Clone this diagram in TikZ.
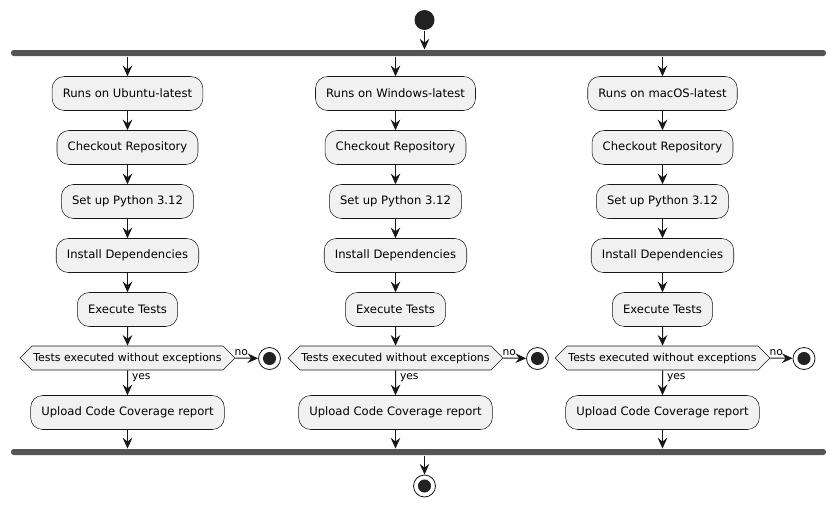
\documentclass[tikz,border=0pt]{standalone}
\usepackage{fontspec}
\setmainfont{DejaVu Sans}
\usetikzlibrary{arrows.meta,shapes.symbols}

\definecolor{boxfill}{HTML}{F1F1F1}
\definecolor{edge}{HTML}{181818}
\definecolor{barfill}{HTML}{555555}
\definecolor{dot}{HTML}{222222}

\tikzset{every picture/.style={line width=0.75pt}}
\tikzset{
  act/.style={draw=edge, line width=0.4pt, fill=boxfill, rounded corners=9pt, minimum height=25.5pt, inner xsep=8pt, font=\fontsize{8.7}{11}\selectfont},
  cond/.style={draw=edge, line width=0.4pt, fill=boxfill, signal, signal to=east and west, signal pointer angle=90, minimum height=18pt, inner xsep=1pt, inner ysep=0pt, font=\fontsize{8.2}{10}\selectfont},
  bar/.style={fill=barfill, rounded corners=2pt, minimum height=4.5pt, minimum width=611.25pt, inner sep=0pt},
  startnode/.style={circle, fill=dot, minimum size=15pt, inner sep=0pt},
  stopnode/.style={circle, draw=edge, line width=0.6pt, fill=white, minimum size=16.5pt, inner sep=0pt, path picture={\fill[dot] (path picture bounding box.center) circle (4.9pt);}},
  arr/.style={draw=edge, -{Stealth[length=8pt, width=7.2pt, inset=2.8pt]}},
  lbl/.style={inner sep=0.75pt, font=\fontsize{8}{10}\selectfont}
}

\begin{document}
\begin{tikzpicture}[x=0.75pt,y=0.75pt,yscale=-1,xscale=1]
\useasboundingbox (0,0) rectangle (836,507);

% Start and bars
\node[startnode] (st) at (424.5,20) {};
\node[bar] (fork) at (418.5,53) {};
\node[bar] (join) at (418.5,452) {};
\node[stopnode] (fin) at (424.5,486) {};

% Ubuntu column
\node[act] (u1) at (127.5,93.5) {Runs on Ubuntu-latest};
\node[act] (u2) at (127.5,147.5) {Checkout Repository};
\node[act] (u3) at (127.5,201.5) {Set up Python 3.12};
\node[act] (u4) at (127.5,255.5) {Install Dependencies};
\node[act] (u5) at (127.5,309.5) {Execute Tests};
\node[cond] (u6) at (127.5,358) {Tests executed without exceptions};
\node[stopnode] (ue) at (269.5,358.5) {};
\node[act] (u7) at (127.5,412.5) {Upload Code Coverage report};

% Windows column
\node[act] (w1) at (395.5,93.5) {Runs on Windows-latest};
\node[act] (w2) at (395.5,147.5) {Checkout Repository};
\node[act] (w3) at (395.5,201.5) {Set up Python 3.12};
\node[act] (w4) at (395.5,255.5) {Install Dependencies};
\node[act] (w5) at (395.5,309.5) {Execute Tests};
\node[cond] (w6) at (395.5,358) {Tests executed without exceptions};
\node[stopnode] (we) at (537.5,358.5) {};
\node[act] (w7) at (395.5,412.5) {Upload Code Coverage report};

% macOS column
\node[act] (m1) at (662.5,93.5) {Runs on macOS-latest};
\node[act] (m2) at (662.5,147.5) {Checkout Repository};
\node[act] (m3) at (662.5,201.5) {Set up Python 3.12};
\node[act] (m4) at (662.5,255.5) {Install Dependencies};
\node[act] (m5) at (662.5,309.5) {Execute Tests};
\node[cond] (m6) at (662.5,358) {Tests executed without exceptions};
\node[stopnode] (me) at (804,358.5) {};
\node[act] (m7) at (662.5,412.5) {Upload Code Coverage report};

%Straight Lines
\draw[arr] (st) -- (st |- fork.north);
\draw[arr] (join.south -| fin) -- (fin);

\draw[arr] (u1 |- fork.south) -- (u1);
\draw[arr] (u1) -- (u2);
\draw[arr] (u2) -- (u3);
\draw[arr] (u3) -- (u4);
\draw[arr] (u4) -- (u5);
\draw[arr] (u5) -- (u6);
\draw[arr] (u6) -- (u7);
\draw[arr] (u6.east) -- (ue);
\draw[arr] (u7) -- (u7 |- join.north);

\draw[arr] (w1 |- fork.south) -- (w1);
\draw[arr] (w1) -- (w2);
\draw[arr] (w2) -- (w3);
\draw[arr] (w3) -- (w4);
\draw[arr] (w4) -- (w5);
\draw[arr] (w5) -- (w6);
\draw[arr] (w6) -- (w7);
\draw[arr] (w6.east) -- (we);
\draw[arr] (w7) -- (w7 |- join.north);

\draw[arr] (m1 |- fork.south) -- (m1);
\draw[arr] (m1) -- (m2);
\draw[arr] (m2) -- (m3);
\draw[arr] (m3) -- (m4);
\draw[arr] (m4) -- (m5);
\draw[arr] (m5) -- (m6);
\draw[arr] (m6) -- (m7);
\draw[arr] (m6.east) -- (me);
\draw[arr] (m7) -- (m7 |- join.north);

% Text Node
\node[lbl, anchor=south west] (un) at (233,357.5) {no};
\node[lbl, anchor=west] (uy) at (130.5,377.5) {yes};
\node[lbl, anchor=south west] (wn) at (501,357.5) {no};
\node[lbl, anchor=west] (wy) at (398.5,377.5) {yes};
\node[lbl, anchor=south west] (mn) at (768,357.5) {no};
\node[lbl, anchor=west] (my) at (665.5,377.5) {yes};

\end{tikzpicture}
\end{document}
